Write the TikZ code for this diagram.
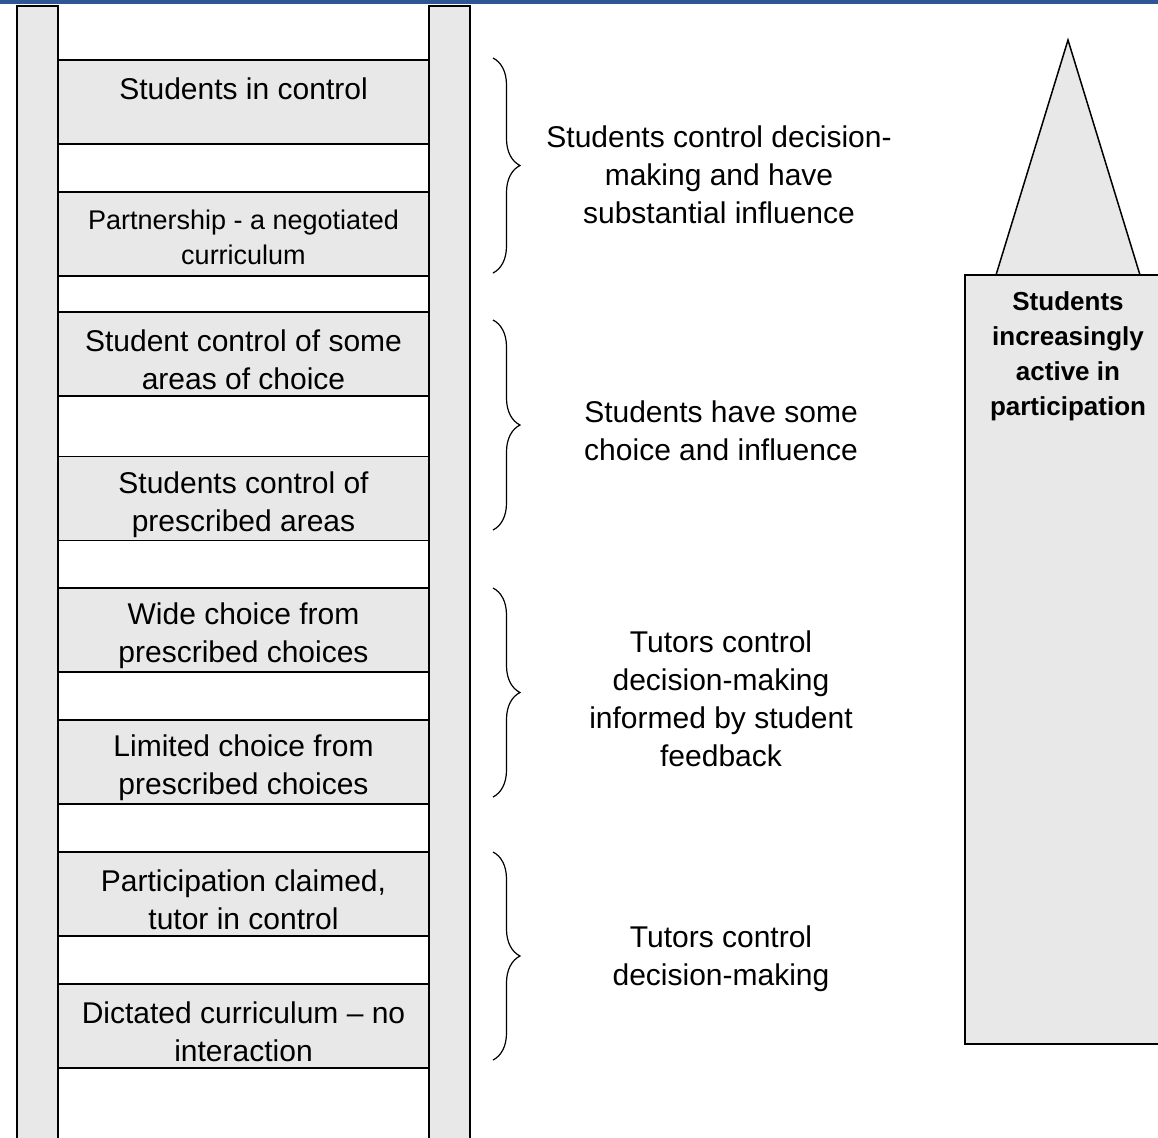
\documentclass[tikz,border=0pt]{standalone}
\usepackage{fontspec}
\setmainfont{Liberation Sans}
\usetikzlibrary{decorations.pathreplacing}
\definecolor{laddergray}{HTML}{E8E8E8}
\definecolor{topblue}{HTML}{2F5597}

\begin{document}
\begin{tikzpicture}[x=0.5pt,y=-0.5pt]
	\tikzstyle{rail}=[draw=black,fill=laddergray,line width=0.75pt]
	\tikzstyle{rung}=[rail,minimum width=185.5pt,minimum height=42pt,inner sep=0pt]
	\tikzstyle{note}=[align=center,font=\fontsize{15}{19}\selectfont]
	\tikzstyle{boldnote}=[align=center,font=\fontsize{13}{17.5}\selectfont\bfseries]
	\tikzstyle{curly}=[decorate,decoration={brace,amplitude=13.5pt},line width=0.6pt]
	\clip (0,0) rectangle (1158,1137);
	\fill[topblue] (0,0) rectangle (1158,4);
	% ladder
	\draw[rail] (17,6) rectangle (58,1160);
	\draw[rail] (429,6) rectangle (470,1160);
	\node[rung] (r1) at (243.5,102) {};
	\node[rung] (r2) at (243.5,234) {};
	\node[rung] (r3) at (243.5,354) {};
	\node[rung] (r4) at (243.5,498.5) {};
	\node[rung] (r5) at (243.5,630) {};
	\node[rung] (r6) at (243.5,762) {};
	\node[rung] (r7) at (243.5,894) {};
	\node[rung] (r8) at (243.5,1026) {};
	\node[note] (t1) at (243.5,89) {Students in control};
	\node[note,font=\fontsize{13.5}{17.5}\selectfont] (t2) at (243.5,237) {Partnership - a negotiated\\curriculum};
	\node[note] (t3) at (243.5,360) {Student control of some\\areas of choice};
	\node[note] (t4) at (243.5,504.5) {Students control of\\prescribed areas};
	\node[note] (t5) at (243.5,636) {Wide choice from\\prescribed choices};
	\node[note] (t6) at (243.5,768) {Limited choice from\\prescribed choices};
	\node[note] (t7) at (243.5,900) {Participation claimed,\\tutor in control};
	\node[note] (t8) at (243.5,1032) {Dictated curriculum -- no\\interaction};
	% braces
	\coordinate (b1t) at (493,58);
	\coordinate (b1b) at (493,273);
	\coordinate (b2t) at (493,320);
	\coordinate (b2b) at (493,530);
	\coordinate (b3t) at (493,588);
	\coordinate (b3b) at (493,797);
	\coordinate (b4t) at (493,852);
	\coordinate (b4b) at (493,1060);
	\draw[curly] (b1t) -- (b1b);
	\draw[curly] (b2t) -- (b2b);
	\draw[curly] (b3t) -- (b3b);
	\draw[curly] (b4t) -- (b4b);
	\node[note] (g1) at (719,174.5) {Students control decision-\\making and have\\substantial influence};
	\node[note] (g2) at (721,431) {Students have some\\choice and influence};
	\node[note] (g3) at (721,698.5) {Tutors control\\decision-making\\informed by student\\feedback};
	\node[note] (g4) at (721,959) {Tutors control\\decision-making};
	% arrow
	\filldraw[rail] (996,275) -- (1068,40) -- (1140,275) -- cycle;
	\draw[rail] (965,275) rectangle (1175,1044);
	\node[boldnote] (active) at (1068,356) {Students\\increasingly\\active in\\participation};
\end{tikzpicture}
\end{document}
